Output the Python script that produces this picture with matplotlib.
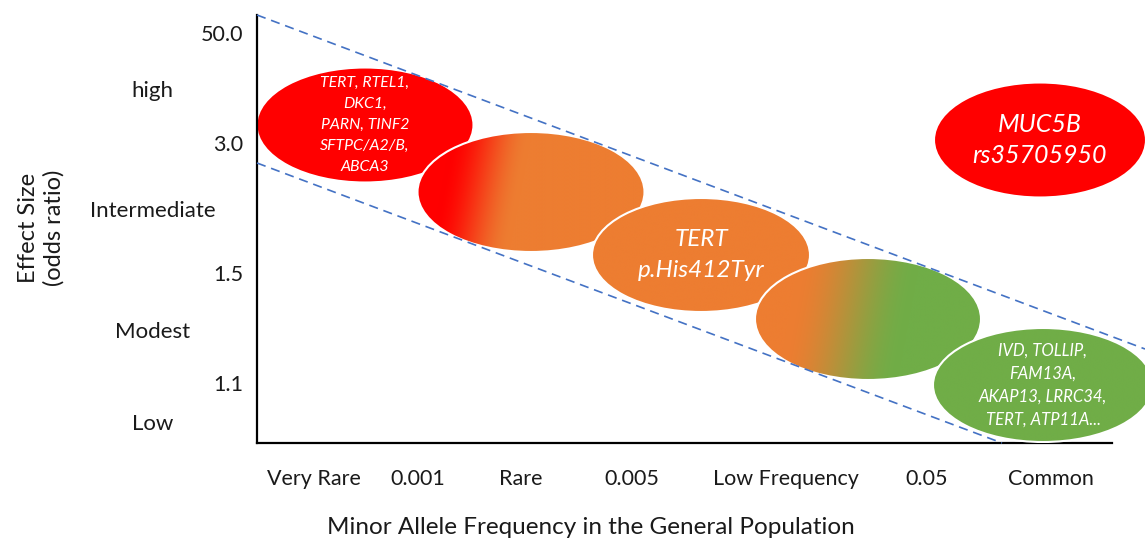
import numpy as np
import matplotlib.pyplot as plt
from matplotlib.patches import Ellipse
from matplotlib.colors import to_rgb

plt.rcParams['font.family'] = ['Lato', 'DejaVu Sans']

RED = '#FF0000'
ORANGE = '#ED7D31'
GREEN = '#70AD47'
BLUE = '#4472C4'

# axis units: x measured from the y axis, y measured from the x axis
x_ticks = [57, 161, 264, 375, 529, 670, 794]
x_labels = ['Very Rare', '0.001', 'Rare', '0.005', 'Low Frequency', '0.05', 'Common']
y_ticks = [410, 300, 170, 60]
y_labels = ['50.0', '3.0', '1.5', '1.1']
band_ticks = [354, 234, 113, 21]
band_labels = ['high', 'Intermediate', 'Modest', 'Low']

# ellipses (variant groups)
blob_x = [108, 274, 444, 611, 786, 783]
blob_y = [318, 251, 188, 124, 58, 303]
blob_w = [217, 227, 218, 226, 220, 212]
blob_h = [115, 120, 114, 122, 114, 115]
blob_from = [RED, RED, ORANGE, ORANGE, GREEN, RED]
blob_to = [RED, ORANGE, ORANGE, GREEN, GREEN, RED]
blob_stops = [(0, 1), (0.1, 0.45), (0, 1), (0.15, 0.68), (0, 1), (0, 1)]
blob_text = [
    'TERT, RTEL1,\nDKC1,\nPARN, TINF2\nSFTPC/A2/B,\nABCA3',
    '',
    'TERT\np.His412Tyr',
    '',
    'IVD, TOLLIP,\nFAM13A,\nAKAP13, LRRC34,\nTERT, ATP11A...',
    'MUC5B\nrs35705950',
]
blob_fs = [11.4, 12, 17.5, 12, 12, 18]
blob_ls = [1.62, 1.2, 1.55, 1.2, 1.55, 1.38]

# dashed guide lines
upper_x = [0, 888]
upper_y = [428, 94]
lower_x = [0, 745]
lower_y = [280, 0]

fig = plt.figure(figsize=(11.45, 5.44), dpi=100)
ax = fig.add_axes([257 / 1145, 1 - 443 / 544, 888 / 1145, 428 / 544])

for i in range(len(blob_x)):
    x0 = blob_x[i] - blob_w[i] / 2
    x1 = blob_x[i] + blob_w[i] / 2
    y0 = blob_y[i] - blob_h[i] / 2
    y1 = blob_y[i] + blob_h[i] / 2
    gx, gy = np.meshgrid(np.linspace(0, 1, 300), np.linspace(0, 1, 150))
    u = gx - 0.1 * (gy - 0.5)
    a, b = blob_stops[i]
    t = np.clip((u - a) / (b - a), 0, 1)
    t = t * t * (3 - 2 * t)
    c0 = np.array(to_rgb(blob_from[i]))
    c1 = np.array(to_rgb(blob_to[i]))
    img = c0 * (1 - t[..., None]) + c1 * t[..., None]
    clip = Ellipse((blob_x[i], blob_y[i]), blob_w[i], blob_h[i], transform=ax.transData)
    im = ax.imshow(img, extent=[x0, x1, y0, y1], origin='lower', aspect='auto',
                   zorder=2 + i, interpolation='bilinear')
    im.set_clip_path(clip)
    ax.add_patch(Ellipse((blob_x[i], blob_y[i]), blob_w[i], blob_h[i], facecolor='none',
                         edgecolor='white', linewidth=1.5, zorder=2.5 + i))
    if blob_text[i]:
        ax.text(blob_x[i], blob_y[i], blob_text[i], color='white', fontstyle='italic',
                fontsize=blob_fs[i], ha='center', va='center', linespacing=blob_ls[i],
                zorder=3 + i)

ax.plot(upper_x, upper_y, color=BLUE, lw=1.2, ls=(0, (5.5, 3.5)), zorder=20, clip_on=False)
ax.plot(lower_x, lower_y, color=BLUE, lw=1.2, ls=(0, (5.5, 3.5)), zorder=20, clip_on=False)

ax.set_xlim(0, 888)
ax.set_ylim(0, 428)

for s in ['top', 'right']:
    ax.spines[s].set_visible(False)
ax.spines['left'].set_linewidth(1.6)
ax.spines['bottom'].set_linewidth(1.6)
ax.spines['bottom'].set_bounds(0, 855)

ax.set_xticks(x_ticks)
ax.set_xticklabels(x_labels, fontsize=15.5, color='#1a1a1a')
ax.set_yticks(y_ticks)
ax.set_yticklabels(y_labels, fontsize=15.5, color='#1a1a1a')
ax.set_yticks(band_ticks, minor=True)
ax.set_yticklabels(band_labels, minor=True, fontsize=16, color='#1a1a1a')
ax.tick_params(axis='x', length=0, pad=18.5)
ax.tick_params(axis='y', which='major', length=0, pad=10)
ax.tick_params(axis='y', which='minor', length=0, pad=75)
for lab in ax.get_yticklabels(minor=True):
    lab.set_ha('center')

fig.text(591 / 1145, 1 - 528 / 544, 'Minor Allele Frequency in the General Population',
         fontsize=17.5, ha='center', va='center', color='#1a1a1a')
fig.text(41 / 1145, 1 - 228 / 544, 'Effect Size\n(odds ratio)', fontsize=17, rotation=90,
         ha='center', va='center', color='#1a1a1a', linespacing=1.25)

fig.savefig('out.png', dpi=100)
